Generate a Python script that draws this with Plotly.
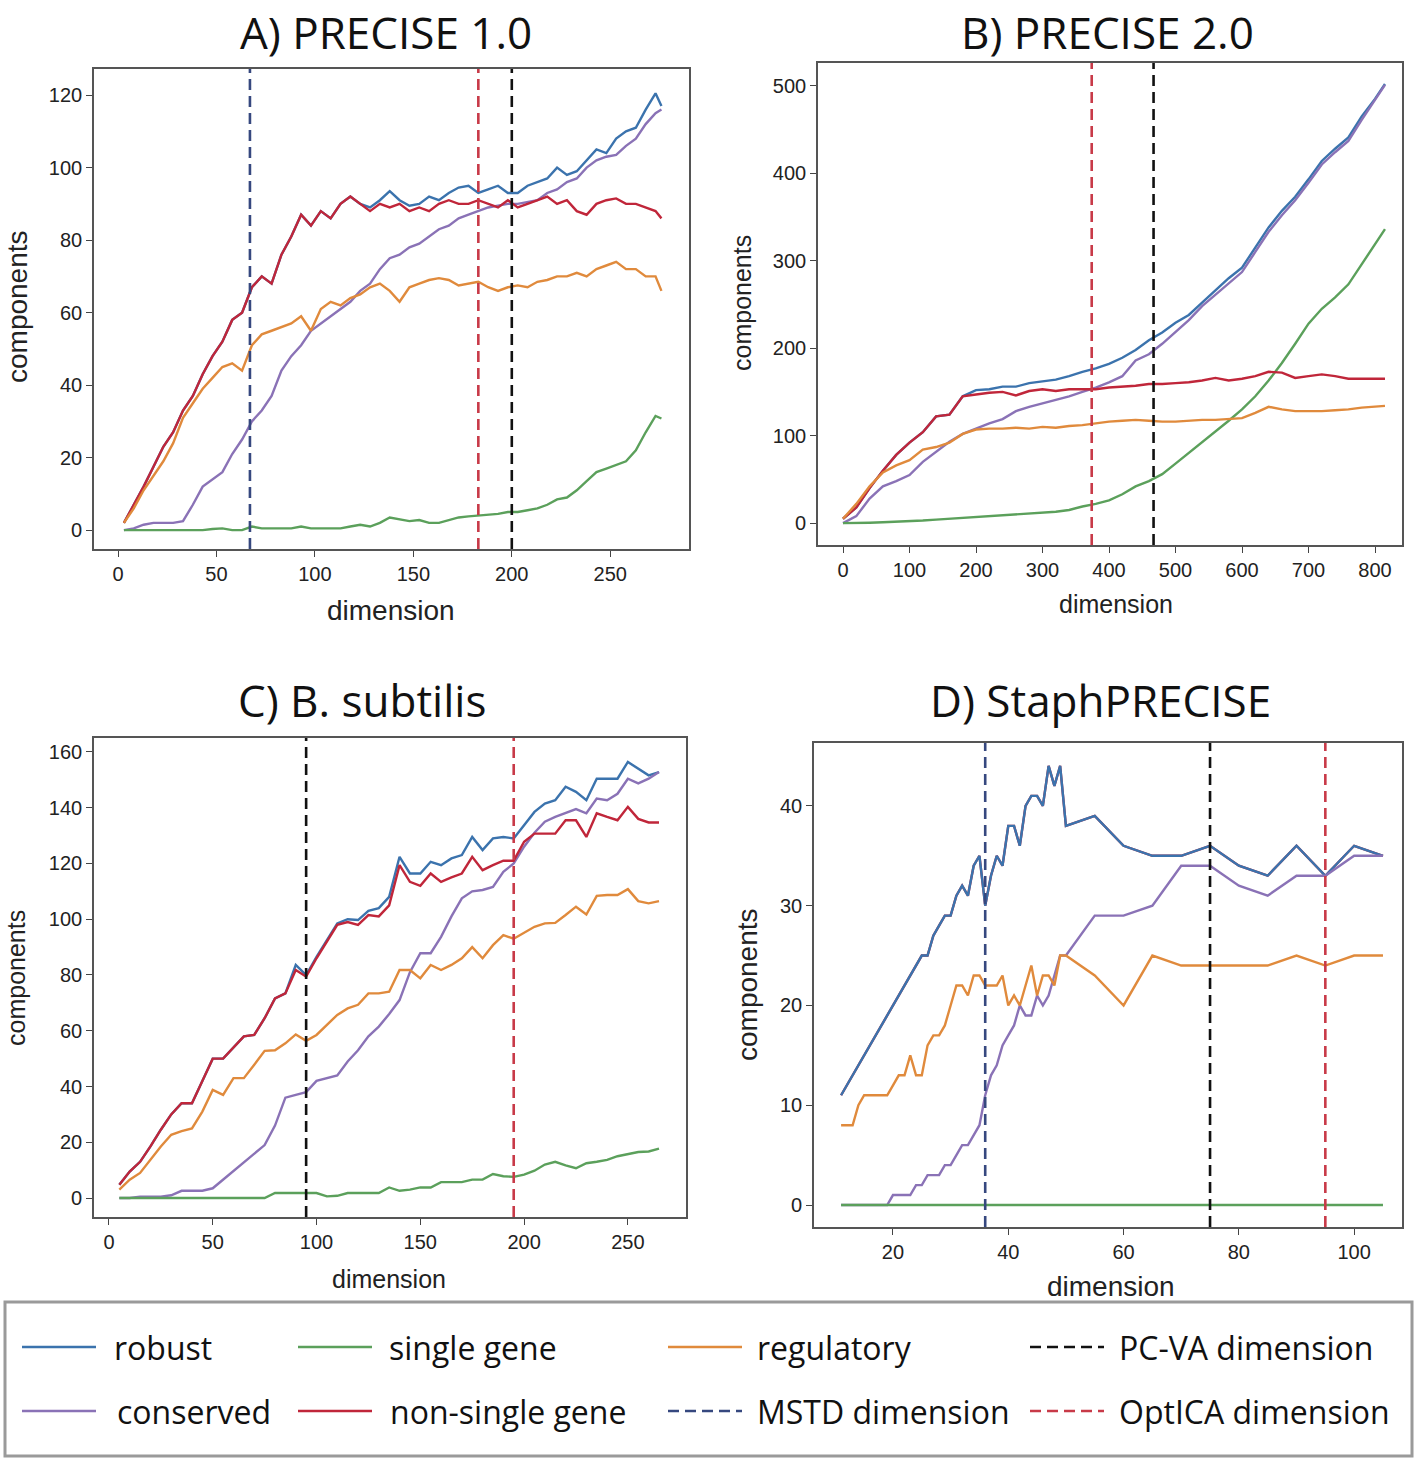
import plotly.graph_objects as go

W, H = 1416, 1460

# ---------------- data ----------------
# A) PRECISE 1.0
a_dim = [3, 8, 13, 18, 23, 28, 33, 38, 43, 48,
         53, 58, 63, 68, 73, 78, 83, 88, 93, 98,
         103, 108, 113, 118, 123, 128, 133, 138, 143, 148,
         153, 158, 163, 168, 173, 178, 183, 188, 193, 198,
         203, 208, 213, 218, 223, 228, 233, 238, 243, 248,
         253, 258, 263, 268, 273, 276]
a_robust = [2, 7, 12, 17.5, 23, 27, 33, 37, 43, 48,
            52, 58, 60, 67, 70, 68, 76, 81, 87, 84,
            88, 86, 90, 92, 90, 89, 91, 93.5, 91, 89.5,
            90, 92, 91, 93, 94.5, 95, 93, 94, 95, 93,
            93, 95, 96, 97, 100, 98, 99, 102, 105, 104,
            108, 110, 111, 116, 120.5, 117]
a_conserved = [0, 0.5, 1.5, 2, 2, 2, 2.5, 7, 12, 14,
               16, 21, 25, 30, 33, 37, 44, 48, 51, 55,
               57, 59, 61, 63, 66, 68, 72, 75, 76, 78,
               79, 81, 83, 84, 86, 87, 88, 89, 89.5, 90,
               90, 90.5, 91, 93, 94, 96, 97, 100, 102, 103,
               103.5, 106, 108, 112, 115, 116]
a_single = [0, 0, 0, 0, 0, 0, 0, 0, 0, 0.3,
            0.5, 0, 0, 1, 0.5, 0.5, 0.5, 0.5, 1, 0.5,
            0.5, 0.5, 0.5, 1, 1.5, 1, 2, 3.5, 3, 2.5,
            2.8, 2, 2, 2.8, 3.5, 3.8, 4, 4.2, 4.5, 5,
            5, 5.5, 6, 7, 8.5, 9, 11, 13.5, 16, 17,
            18, 19, 22, 27, 31.5, 30.8]
a_nonsingle = [2, 7, 12, 17.5, 23, 27, 33, 37, 43, 48,
               52, 58, 60, 67, 70, 68, 76, 81, 87, 84,
               88, 86, 90, 92, 90, 88, 90, 89, 90, 88,
               89, 88, 90, 91, 90, 90, 91, 90, 89, 91,
               89, 90, 91, 92, 90, 91, 88, 87, 90, 91,
               91.5, 90, 90, 89, 88, 86]
a_regulatory = [2, 6, 11, 15, 19, 24, 31, 35, 39, 42,
                45, 46, 44, 51, 54, 55, 56, 57, 59, 55,
                61, 63, 62, 64, 65, 67, 68, 66, 63, 67,
                68, 69, 69.5, 69, 67.5, 68, 68.5, 67, 66, 67,
                67.5, 67, 68.5, 69, 70, 70, 71, 70, 72, 73,
                74, 72, 72, 70, 70, 66]
a_mstd, a_pcva, a_optica = 67, 200, 183

# B) PRECISE 2.0
b_dim = [0, 20, 40, 60, 80, 100, 120, 140, 160, 180,
         200, 220, 240, 260, 280, 300, 320, 340, 360, 380,
         400, 420, 440, 460, 480, 500, 520, 540, 560, 580,
         600, 620, 640, 660, 680, 700, 720, 740, 760, 780,
         800, 815]
b_robust = [5, 18, 40, 60, 78, 92, 104, 122, 124, 145,
            152, 153, 156, 156, 160, 162, 164, 168, 173, 177,
            182, 189, 198, 209, 218, 229, 238, 252, 266, 280,
            292, 315, 338, 357, 373, 393, 414, 428, 441, 465,
            485, 502]
b_conserved = [0, 8, 28, 42, 48, 55, 70, 82, 93, 102,
               108, 114, 119, 128, 133, 137, 141, 145, 150, 155,
               161, 168, 186, 193, 205, 219, 232, 248, 261, 274,
               287, 310, 333, 352, 369, 389, 410, 424, 437, 461,
               483, 501]
b_single = [0, 0, 0.5, 1, 1.5, 2, 3, 4, 5, 6,
            7, 7.5, 9, 10, 11, 12, 13, 15, 19, 22,
            26, 33, 42, 48, 56, 68, 80, 93, 104, 117,
            130, 145, 163, 183, 205, 228, 245, 258, 273, 296,
            318, 336]
b_nonsingle = [5, 18, 40, 60, 78, 92, 104, 122, 124, 145,
               147, 149, 150, 146, 151, 153, 151, 153, 153, 153,
               155, 156, 157, 159, 159, 160, 161, 163, 166, 163,
               165, 168, 173, 172, 166, 168, 170, 168, 165, 165,
               165, 165]
b_regulatory = [5, 22, 42, 58, 66, 72, 84, 87, 92, 102,
                107, 108, 108, 109, 108, 110, 109, 111, 112, 114,
                116, 117, 118, 117, 116, 116, 117, 118, 118, 119,
                120, 126, 133, 130, 128, 128, 128, 129, 130, 132,
                133, 134]
b_pcva, b_optica = 467, 374

# C) B. subtilis
c_dim = list(range(5, 270, 5))
c_robust = [4.8, 9.5, 13, 18.5, 24.5, 30, 34, 34, 42, 50,
            50, 54, 58, 58.5, 64.5, 71.6, 73.4, 83.6, 80, 86.5,
            92.5, 98.5, 100, 99.7, 103, 104, 108, 122.4, 116.4, 116.4,
            120.6, 119.4, 121.8, 123, 129.5, 124.8, 129, 129.5, 129, 133.7,
            138.5, 141.5, 142.7, 147.5, 145.7, 142.7, 150.4, 150.4, 150.4, 156.4,
            154, 151.6, 152.8]
c_conserved = [0, 0, 0.5, 0.5, 0.5, 1, 2.6, 2.6, 2.6, 3.5,
               6.6, 10, 13, 16, 19, 26, 36, 37, 38, 42,
               43, 44, 49, 53, 58, 61.5, 66, 71, 81, 87.8,
               87.8, 93.7, 101, 107.5, 110, 110.5, 111.6, 117, 120, 126,
               131, 135, 136.7, 138, 139.5, 138, 143.3, 142.7, 145, 150.4,
               148.7, 150.4, 152.8]
c_single = [0, 0, 0, 0, 0, 0, 0, 0, 0, 0,
            0, 0, 0, 0, 0, 1.8, 1.8, 1.8, 2, 1.8,
            0.6, 0.8, 1.8, 1.8, 1.8, 1.8, 3.8, 2.6, 3, 3.8,
            3.8, 5.7, 5.7, 5.7, 6.6, 6.6, 8.6, 7.8, 7.6, 8.4,
            9.8, 12, 13, 11.7, 10.7, 12.5, 13, 13.7, 15, 15.8,
            16.5, 16.7, 17.7]
c_nonsingle = [4.8, 9.5, 13, 18.5, 24.5, 30, 34, 34, 42, 50,
               50, 54, 58, 58.5, 64.5, 71.6, 73.4, 81.8, 79.4, 86,
               92, 98, 99, 98, 101.5, 101, 105, 119.4, 113.4, 112,
               116.4, 113.4, 115, 116.4, 122.4, 117.6, 119.4, 121, 121, 127.8,
               130.7, 130.7, 130.7, 135.5, 135.5, 129.5, 138, 136.7, 135.5, 140.3,
               136, 134.7, 134.7]
c_regulatory = [3, 6.6, 9, 13.7, 18.5, 22.7, 24, 25, 31, 38.8,
                37, 43, 43, 47.8, 52.8, 53, 55.5, 58.7, 56.4, 58.5,
                62, 65.7, 68, 69.3, 73.4, 73.4, 74, 81.8, 81.8, 78.8,
                83.6, 81.8, 83.6, 86, 90, 86, 90.7, 94.3, 93, 95,
                97.3, 98.5, 98.7, 101.5, 104.5, 101.7, 108.4, 108.7, 108.7, 110.8,
                106.5, 105.7, 106.5]
c_pcva, c_optica = 95, 195

# D) StaphPRECISE
d_dim = list(range(11, 51)) + [55, 60, 65, 70, 75, 80, 85, 90, 95, 100, 105]
d_robust = [11, 12, 13, 14, 15, 16, 17, 18, 19, 20,
            21, 22, 23, 24, 25, 25, 27, 28, 29, 29,
            31, 32, 31, 34, 35, 30, 33, 35, 34, 38,
            38, 36, 40, 41, 41, 40, 44, 42, 44, 38,
            39, 36, 35, 35, 36, 34, 33, 36, 33, 36, 35]
d_conserved = [0, 0, 0, 0, 0, 0, 0, 0, 0, 1,
               1, 1, 1, 2, 2, 3, 3, 3, 4, 4,
               5, 6, 6, 7, 8, 11, 13, 14, 16, 17,
               18, 20, 19, 19, 21, 20, 21, 23, 25, 25,
               29, 29, 30, 34, 34, 32, 31, 33, 33, 35, 35]
d_single = [0] * 51
# no single-gene components, so non-single gene sits exactly under robust
d_nonsingle = [11, 12, 13, 14, 15, 16, 17, 18, 19, 20,
               21, 22, 23, 24, 25, 25, 27, 28, 29, 29,
               31, 32, 31, 34, 35, 30, 33, 35, 34, 38,
               38, 36, 40, 41, 41, 40, 44, 42, 44, 38,
               39, 36, 35, 35, 36, 34, 33, 36, 33, 36, 35]
d_regulatory = [8, 8, 8, 10, 11, 11, 11, 11, 11, 12,
                13, 13, 15, 13, 13, 16, 17, 17, 18, 20,
                22, 22, 21, 23, 23, 22, 22, 22, 23, 20,
                21, 20, 22, 24, 21, 23, 23, 22, 25, 25,
                23, 20, 25, 24, 24, 24, 24, 25, 24, 25, 25]
d_mstd, d_pcva, d_optica = 36, 75, 95

titles = ["A) PRECISE 1.0", "B) PRECISE 2.0", "C) B. subtilis", "D) StaphPRECISE"]

col = {"robust": "#3b73ad", "conserved": "#8a72b6", "single gene": "#5ba05b",
       "non-single gene": "#c0263a", "regulatory": "#e08a3c",
       "MSTD dimension": "#36487f", "PC-VA dimension": "#111111", "OptICA dimension": "#c83a48"}

# ---------------- layout geometry (pixels) ----------------
boxes = [(94, 689, 69, 549), (818, 1402, 63, 545), (94, 686, 738, 1217), (814, 1402, 743, 1227)]
xranges = [[-12.2, 290], [-37.6, 840.6], [-7.2, 278], [6.3, 108.3]]
yranges = [[-5.2, 127.2], [-25, 526], [-6.8, 165], [-2.2, 46.3]]
xticks = [list(range(0, 251, 50)), list(range(0, 801, 100)), list(range(0, 251, 50)), list(range(20, 101, 20))]
yticks = [list(range(0, 121, 20)), list(range(0, 501, 100)), list(range(0, 161, 20)), list(range(0, 41, 10))]

panels = [
    (a_dim, dict(robust=a_robust, conserved=a_conserved, single=a_single, nonsingle=a_nonsingle, regulatory=a_regulatory),
     [("MSTD dimension", a_mstd), ("PC-VA dimension", a_pcva), ("OptICA dimension", a_optica)]),
    (b_dim, dict(robust=b_robust, conserved=b_conserved, single=b_single, nonsingle=b_nonsingle, regulatory=b_regulatory),
     [("PC-VA dimension", b_pcva), ("OptICA dimension", b_optica)]),
    (c_dim, dict(robust=c_robust, conserved=c_conserved, single=c_single, nonsingle=c_nonsingle, regulatory=c_regulatory),
     [("PC-VA dimension", c_pcva), ("OptICA dimension", c_optica)]),
    (d_dim, dict(robust=d_robust, conserved=d_conserved, single=d_single, nonsingle=d_nonsingle, regulatory=d_regulatory),
     [("MSTD dimension", d_mstd), ("PC-VA dimension", d_pcva), ("OptICA dimension", d_optica)]),
]
names = {"robust": "robust", "conserved": "conserved", "single": "single gene",
         "nonsingle": "non-single gene", "regulatory": "regulatory"}

fig = go.Figure()
tick_font = dict(family="Liberation Sans, Arial", size=20, color="#222")

for i, (dims, series, vlines) in enumerate(panels):
    n = "" if i == 0 else str(i + 1)
    x0, x1, y0, y1 = boxes[i]
    order = ["robust", "conserved", "single", "nonsingle", "regulatory"]
    if i == 3:
        order = ["nonsingle", "robust", "conserved", "single", "regulatory"]  # robust drawn on top in D
    for key in order:
        fig.add_trace(go.Scatter(x=dims, y=series[key], mode="lines", name=names[key],
                                 line=dict(color=col[names[key]], width=2.4),
                                 xaxis="x" + n, yaxis="y" + n, showlegend=False))
    for lab, xv in vlines:
        fig.add_shape(type="line", xref="x" + n, yref="y" + n + " domain", x0=xv, x1=xv, y0=0, y1=1,
                      line=dict(color=col[lab], width=2.6, dash="11px,6px"))
    fig.layout["xaxis" + n] = dict(domain=[x0 / W, x1 / W], anchor="y" + n, range=xranges[i],
                                   tickvals=xticks[i], ticks="outside", ticklen=6, tickcolor="#444",
                                   showline=True, linecolor="#555", linewidth=1.6, mirror=True,
                                   showgrid=False, zeroline=False, tickfont=tick_font)
    fig.layout["yaxis" + n] = dict(domain=[1 - y1 / H, 1 - y0 / H], anchor="x" + n, range=yranges[i],
                                   tickvals=yticks[i], ticks="outside", ticklen=6, tickcolor="#444",
                                   showline=True, linecolor="#555", linewidth=1.6, mirror=True,
                                   showgrid=False, zeroline=False, tickfont=tick_font)

ann = []
# titles: (center x, top y of the text box)
title_pos = [(386, 0), (1107, 0), (362, 668), (1100, 668)]
for t, (px, py) in zip(titles, title_pos):
    ann.append(dict(text=t, x=px / W, y=1 - py / H, xref="paper", yref="paper", showarrow=False,
                    xanchor="center", yanchor="top", font=dict(family="Open Sans", size=44, color="#111")))
ylab_pos = [(17, 307, 28), (742, 303, 25), (16, 978, 25), (747, 985, 28)]
xlab_pos = [(391, 611, 28), (1116, 604, 25), (389, 1279, 25), (1111, 1286, 28)]
for px, py, s in ylab_pos:
    ann.append(dict(text="components", x=px / W, y=1 - py / H, xref="paper", yref="paper", showarrow=False,
                    textangle=-90, xanchor="center", yanchor="middle",
                    font=dict(family="Liberation Sans, Arial", size=s, color="#222")))
for px, py, s in xlab_pos:
    ann.append(dict(text="dimension", x=px / W, y=1 - py / H, xref="paper", yref="paper", showarrow=False,
                    xanchor="center", yanchor="middle",
                    font=dict(family="Liberation Sans, Arial", size=s, color="#222")))

# legend box drawn by hand (4 columns x 2 rows)
shapes = [dict(type="rect", xref="paper", yref="paper", x0=5 / W, x1=1412 / W, y0=1 - 1456 / H, y1=1 - 1302 / H,
               line=dict(color="#9a9a9a", width=3), fillcolor="rgba(0,0,0,0)")]
leg_items = [("robust", 22, 112, 1347, "solid"), ("single gene", 298, 387, 1347, "solid"),
             ("regulatory", 668, 755, 1347, "solid"), ("PC-VA dimension", 1030, 1117, 1347, "dash"),
             ("conserved", 22, 115, 1411, "solid"), ("non-single gene", 298, 388, 1411, "solid"),
             ("MSTD dimension", 668, 755, 1411, "dash"), ("OptICA dimension", 1030, 1117, 1411, "dash")]
for lab, lx, tx, ly, dash in leg_items:
    shapes.append(dict(type="line", xref="paper", yref="paper", x0=lx / W, x1=(lx + 74) / W,
                       y0=1 - ly / H, y1=1 - ly / H,
                       line=dict(color=col[lab], width=2.6, dash="solid" if dash == "solid" else "11px,6px")))
    ann.append(dict(text=lab, x=tx / W, y=1 - ly / H, xref="paper", yref="paper", showarrow=False,
                    xanchor="left", yanchor="middle", font=dict(family="Open Sans", size=32, color="#111")))

fig.update_layout(width=W, height=H, margin=dict(l=0, r=0, t=0, b=0),
                  plot_bgcolor="white", paper_bgcolor="white",
                  annotations=ann, shapes=list(fig.layout.shapes) + shapes, showlegend=False)

# drop the browser's default 8px body margin so the figure sits at the page corner
fig.write_html("out.html", config={"displayModeBar": False},
               post_script="document.body.style.margin='0px';")
